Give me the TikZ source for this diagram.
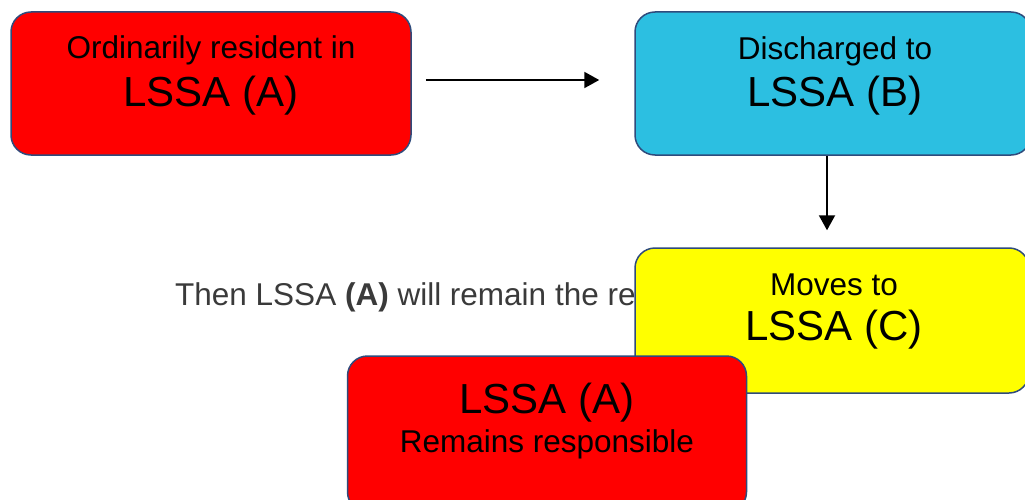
\documentclass[tikz,border=0pt]{standalone}
\usepackage{fontspec}
\setmainfont{Liberation Sans}
\usetikzlibrary{arrows.meta}
\definecolor{boxred}{HTML}{FF0000}
\definecolor{boxcyan}{HTML}{2CBFE1}
\definecolor{boxyellow}{HTML}{FFFF00}
\definecolor{boxline}{HTML}{2F4B7C}
\definecolor{midgray}{HTML}{3A3A3A}
\begin{document}
\begin{tikzpicture}[x=1pt,y=-1pt,
  box/.style={draw=boxline, line width=1.5pt, rounded corners=20pt, inner sep=0pt},
  small/.style={anchor=base, inner sep=0pt, font=\fontsize{31.5}{36}\selectfont},
  big/.style={anchor=base, inner sep=0pt, font=\fontsize{42}{48}\selectfont},
  arr/.style={draw=black, line width=2pt, -{Triangle[length=15pt,width=16pt]}}
]
\useasboundingbox (0,0) rectangle (1025,500);
\fill[white] (0,0) rectangle (1025,500);
% middle text
\node[anchor=base west, inner sep=0pt, text=midgray, font=\fontsize{31.5}{36}\selectfont] (mid) at (175,305) {Then LSSA \textbf{(A)} will remain the re};
% boxes
\node[box, fill=boxred, minimum width=400pt, minimum height=143pt] (A) at (211,83.5) {};
\node[small] (A1) at (211,59) {Ordinarily resident in};
\node[big] (A2) at (211,107) {LSSA (A)};
\node[box, fill=boxcyan, minimum width=396pt, minimum height=143pt] (B) at (833,83.5) {};
\node[small] (B1) at (835,60) {Discharged to};
\node[big] (B2) at (835,107) {LSSA (B)};
\node[box, fill=boxyellow, minimum width=394pt, minimum height=145pt] (C) at (832,320.5) {};
\node[small] (C1) at (834,295) {Moves to};
\node[big] (C2) at (834,340) {LSSA (C)};
\node[box, fill=boxred, minimum width=399pt, minimum height=156pt] (D) at (547,434) {};
\node[big] (D1) at (547,413) {LSSA (A)};
\node[small] (D2) at (547,452) {Remains responsible};
% arrows
\draw[arr, shorten <=14pt, shorten >=35pt] ([yshift=3.5pt]A.east) -- ([yshift=3.5pt]B.west);
\draw[arr, shorten >=17pt] ([xshift=-6pt]B.south) -- ([xshift=-5pt]C.north);
\end{tikzpicture}
\end{document}
